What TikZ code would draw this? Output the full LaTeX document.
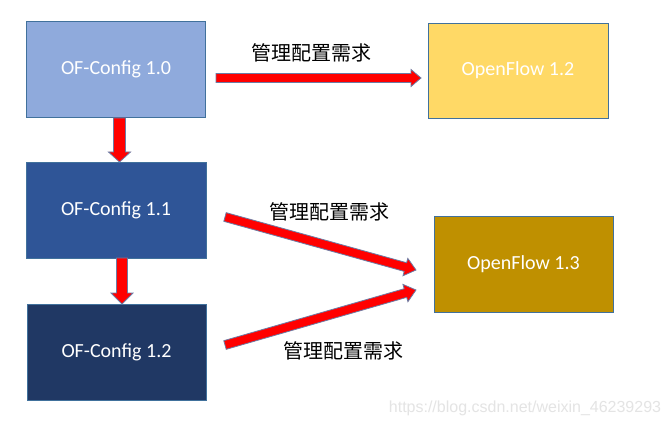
\documentclass[tikz,border=0pt]{standalone}
\usepackage{fontspec}
\setmainfont{Carlito}
\newfontfamily\cjk{Noto Sans CJK SC}
\newfontfamily\wmfont{Liberation Sans}
\usetikzlibrary{calc}
\definecolor{cA}{HTML}{8FAADC}
\definecolor{cB}{HTML}{2F5597}
\definecolor{cC}{HTML}{203864}
\definecolor{cY}{HTML}{FFD966}
\definecolor{cG}{HTML}{BF9000}
\definecolor{edge}{HTML}{41719C}
\definecolor{arrowline}{HTML}{6B7CA5}
\definecolor{wm}{HTML}{E4E4E4}
\tikzset{
  box/.style={draw=edge, line width=0.9pt, inner sep=0pt, minimum width=179pt, minimum height=96pt, text=white, font=\fontsize{20}{24}\selectfont},
  lbl/.style={font=\cjk\fontsize{20}{24}\selectfont, text=black, inner sep=0pt},
  blockarrow/.style={draw=arrowline, fill=red, line width=0.8pt, line join=miter}
}
% #1 start, #2 end, #3 shaft half width, #4 head half width, #5 head length
\newcommand{\myblockarrow}[5]{%
  \coordinate (hb) at ($(#2)!#5!(#1)$);
  \draw[blockarrow] ($(#1)!#3!90:(#2)$) -- ($(hb)!#3!90:(#2)$) -- ($(hb)!#4!90:(#2)$) -- (#2)
    -- ($(hb)!#4!-90:(#2)$) -- ($(hb)!#3!-90:(#2)$) -- ($(#1)!#3!-90:(#2)$) -- cycle;
}
\begin{document}
\begin{tikzpicture}[x=1pt,y=-1pt]
\useasboundingbox[fill=white] (0,0) rectangle (671,427);
\node[box, fill=cA] (of10) at (116,69) {OF-Config 1.0};
\node[box, fill=cY, minimum width=180pt, minimum height=95pt] (ofl12) at (518,70.5) {OpenFlow 1.2};
\node[box, fill=cB, minimum width=180pt] (of11) at (116,210) {OF-Config 1.1};
\node[box, fill=cC] (of12) at (116.5,352) {OF-Config 1.2};
\node[box, fill=cG] (ofl13) at (523.5,264) {OpenFlow 1.3};

\coordinate (h1s) at (216,78);
\coordinate (h1e) at (421,78);
\coordinate (d1s) at (119.5,118);
\coordinate (d1e) at (119.5,162);
\coordinate (d2s) at (122,258);
\coordinate (d2e) at (122,304);
\coordinate (g1s) at (225,217);
\coordinate (g1e) at (416,270);
\coordinate (g2s) at (225,345);
\coordinate (g2e) at (416,290);

\myblockarrow{h1s}{h1e}{4.5pt}{8.5pt}{10pt}
\myblockarrow{d1s}{d1e}{6pt}{11pt}{10pt}
\myblockarrow{d2s}{d2e}{5.5pt}{11pt}{11pt}
\myblockarrow{g1s}{g1e}{4.5pt}{9pt}{11pt}
\myblockarrow{g2s}{g2e}{4.5pt}{9pt}{11pt}

\node[lbl] (t1) at (311,53) {管理配置需求};
\node[lbl] (t2) at (329.5,212) {管理配置需求};
\node[lbl] (t3) at (343.5,351) {管理配置需求};

\node[font=\wmfont\fontsize{16}{19}\selectfont, text=wm, inner sep=0pt] (wmark) at (525,408) {https://blog.csdn.net/weixin\_46239293};
\end{tikzpicture}
\end{document}
